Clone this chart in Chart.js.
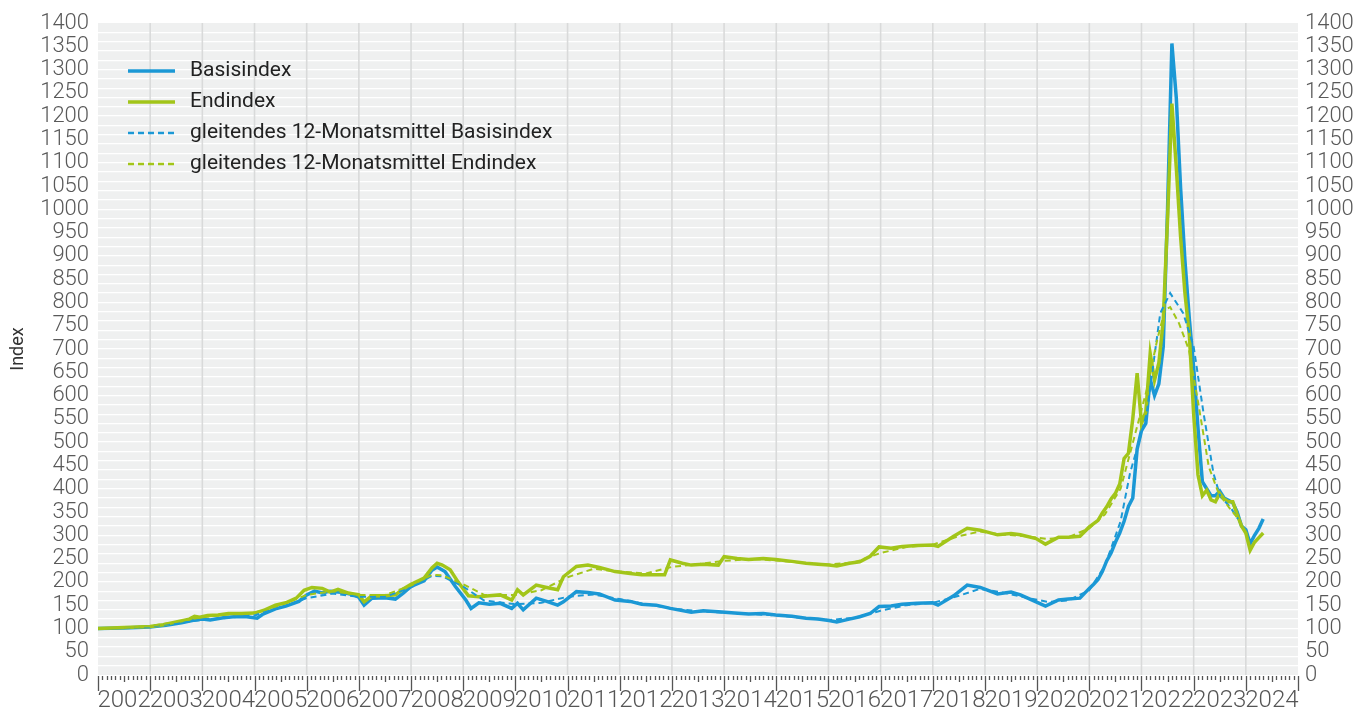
<!DOCTYPE html>
<html>
<head>
<meta charset="utf-8">
<script src="https://cdn.jsdelivr.net/npm/chart.js@4.4.1/dist/chart.umd.min.js"></script>
<style>
  html, body { margin: 0; padding: 0; background: #fff; }
  #wrap { width: 1369px; height: 722px; }
</style>
</head>
<body>
<div id="wrap"><canvas id="indexChart" width="1369" height="722"></canvas></div>
<script>
// Jahreslabels (zentriert im jeweiligen Jahr)
const yearLabels = ['2002', '2003', '2004', '2005', '2006', '2007', '2008', '2009', '2010', '2011', '2012',
  '2013', '2014', '2015', '2016', '2017', '2018', '2019', '2020', '2021', '2022', '2023', '2024'];

// [Zeitpunkt als Dezimaljahr, Wert]
const basisIndex = [
  [2002.0, 100], [2002.5, 101], [2003.0, 103], [2003.3, 107], [2003.6, 112], [2003.85, 118], [2004.0, 120],
  [2004.15, 118], [2004.4, 123], [2004.6, 125], [2004.85, 125], [2005.05, 122], [2005.15, 130], [2005.4, 142],
  [2005.6, 148], [2005.85, 158], [2006.0, 172], [2006.15, 180], [2006.3, 176], [2006.45, 180], [2006.7, 177],
  [2006.9, 172], [2007.0, 167], [2007.1, 150], [2007.25, 165], [2007.5, 166], [2007.7, 163], [2007.85, 176],
  [2008.0, 190], [2008.25, 202], [2008.4, 225], [2008.5, 232], [2008.65, 222], [2008.85, 190], [2009.05, 161],
  [2009.15, 143], [2009.3, 155], [2009.5, 152], [2009.71, 154], [2009.93, 143], [2010.04, 154], [2010.15, 140],
  [2010.4, 165], [2010.6, 158], [2010.81, 150], [2010.92, 157], [2011.17, 179], [2011.39, 177], [2011.61, 174],
  [2011.91, 161], [2012.2, 158], [2012.42, 152], [2012.7, 150], [2012.97, 143], [2013.37, 135], [2013.6, 138],
  [2013.89, 136], [2014.2, 133], [2014.47, 131], [2014.75, 132], [2014.99, 129], [2015.3, 126], [2015.57, 122],
  [2015.8, 120], [2016.01, 117], [2016.16, 114], [2016.4, 120], [2016.6, 125], [2016.8, 132], [2016.97, 147],
  [2017.2, 148], [2017.41, 152], [2017.7, 154], [2018.0, 155], [2018.1, 150], [2018.4, 170], [2018.66, 193],
  [2018.91, 188], [2019.24, 174], [2019.5, 178], [2019.68, 172], [2019.98, 157], [2020.16, 148], [2020.41, 161],
  [2020.6, 163], [2020.82, 165],
  [2021.0, 186], [2021.083, 195], [2021.167, 205], [2021.25, 222], [2021.333, 245], [2021.417, 262],
  [2021.5, 285], [2021.583, 305], [2021.667, 330], [2021.75, 362], [2021.833, 380], [2021.917, 485],
  [2022.0, 525], [2022.083, 540], [2022.167, 635], [2022.25, 600], [2022.333, 625], [2022.417, 705],
  [2022.5, 1000], [2022.583, 1356], [2022.667, 1240], [2022.75, 1045], [2022.833, 890], [2022.917, 765],
  [2023.0, 660], [2023.083, 530], [2023.167, 415], [2023.25, 400], [2023.333, 385], [2023.417, 385],
  [2023.5, 395], [2023.583, 380], [2023.667, 375], [2023.75, 370], [2023.833, 350], [2023.917, 320],
  [2024.0, 312], [2024.083, 282], [2024.167, 300], [2024.25, 315], [2024.333, 335]
];

const endIndex = [
  [2002.0, 100], [2002.25, 101], [2002.5, 102], [2002.75, 103], [2003.0, 104], [2003.25, 108], [2003.5, 114],
  [2003.75, 120], [2003.85, 126], [2003.95, 124], [2004.1, 128], [2004.3, 129], [2004.5, 132], [2004.75, 132],
  [2005.0, 133], [2005.2, 140], [2005.4, 150], [2005.6, 155], [2005.8, 165], [2005.95, 182], [2006.1, 188],
  [2006.3, 186], [2006.45, 178], [2006.6, 184], [2006.8, 176], [2007.0, 172], [2007.1, 157], [2007.25, 170],
  [2007.5, 170], [2007.7, 172], [2007.85, 185], [2008.0, 195], [2008.25, 208], [2008.4, 230], [2008.5, 240],
  [2008.6, 236], [2008.75, 226], [2008.9, 200], [2009.1, 170], [2009.3, 168], [2009.5, 170], [2009.71, 172],
  [2009.93, 161], [2010.04, 183], [2010.15, 172], [2010.4, 193], [2010.6, 188], [2010.81, 183], [2010.92, 211],
  [2011.17, 233], [2011.39, 236], [2011.61, 231], [2011.91, 222], [2012.2, 218], [2012.42, 215], [2012.86, 215],
  [2012.97, 247], [2013.2, 240], [2013.37, 236], [2013.6, 238], [2013.89, 236], [2014.0, 254], [2014.25, 250],
  [2014.47, 248], [2014.75, 250], [2014.99, 248], [2015.3, 244], [2015.57, 240], [2015.8, 238], [2016.01, 236],
  [2016.16, 234], [2016.4, 240], [2016.6, 243], [2016.8, 255], [2016.97, 275], [2017.2, 272], [2017.41, 276],
  [2017.7, 278], [2018.0, 279], [2018.1, 276], [2018.4, 298], [2018.66, 315], [2018.91, 311], [2019.24, 301],
  [2019.5, 304], [2019.68, 301], [2019.98, 293], [2020.16, 281], [2020.41, 296], [2020.6, 296], [2020.82, 298],
  [2021.0, 318], [2021.083, 325], [2021.167, 332], [2021.25, 348], [2021.333, 361], [2021.417, 378],
  [2021.5, 390], [2021.583, 410], [2021.667, 465], [2021.75, 476], [2021.833, 550], [2021.917, 648],
  [2022.0, 540], [2022.083, 565], [2022.167, 690], [2022.25, 633], [2022.333, 670], [2022.417, 760],
  [2022.5, 980], [2022.583, 1227], [2022.667, 1090], [2022.75, 940], [2022.833, 820], [2022.917, 730],
  [2023.0, 560], [2023.083, 430], [2023.167, 385], [2023.25, 397], [2023.333, 376], [2023.417, 372],
  [2023.5, 390], [2023.583, 378], [2023.667, 372], [2023.75, 372], [2023.833, 345], [2023.917, 320],
  [2024.0, 305], [2024.083, 268], [2024.167, 285], [2024.25, 295], [2024.333, 305]
];

const basisAvg12 = [
  [2002.5, 101], [2003.0, 104], [2003.5, 111], [2004.0, 118], [2004.5, 123], [2005.0, 128], [2005.5, 145],
  [2006.0, 165], [2006.5, 175], [2007.0, 168], [2007.5, 168], [2008.0, 188], [2008.4, 213], [2008.6, 212],
  [2009.0, 190], [2009.4, 160], [2010.0, 152], [2010.5, 155], [2011.0, 168], [2011.5, 173], [2012.0, 163],
  [2012.5, 152], [2013.0, 143], [2013.5, 137], [2014.0, 134], [2014.5, 131], [2015.0, 128], [2015.5, 123],
  [2016.0, 118], [2016.5, 123], [2017.0, 138], [2017.5, 150], [2018.0, 155], [2018.5, 170], [2018.9, 185],
  [2019.3, 178], [2019.8, 166], [2020.2, 157], [2020.6, 160], [2021.0, 182], [2021.3, 235], [2021.6, 330],
  [2021.78, 433], [2022.0, 520], [2022.1, 562], [2022.36, 777], [2022.55, 820], [2022.8, 777], [2023.0, 705],
  [2023.19, 562], [2023.38, 433], [2023.51, 383], [2023.7, 361], [2023.85, 335]
];

const endAvg12 = [
  [2002.5, 101], [2003.0, 105], [2003.5, 114], [2004.0, 124], [2004.5, 130], [2005.0, 134], [2005.5, 150],
  [2006.0, 172], [2006.5, 180], [2007.0, 172], [2007.5, 172], [2008.0, 192], [2008.4, 215], [2008.6, 214],
  [2009.0, 195], [2009.4, 172], [2010.0, 172], [2010.5, 182], [2011.0, 210], [2011.5, 228], [2012.0, 222],
  [2012.5, 218], [2013.0, 232], [2013.5, 238], [2014.0, 245], [2014.5, 249], [2015.0, 246], [2015.5, 241],
  [2016.0, 237], [2016.5, 242], [2017.0, 262], [2017.5, 275], [2018.0, 280], [2018.5, 298], [2018.9, 308],
  [2019.3, 302], [2019.8, 298], [2020.2, 292], [2020.6, 296], [2021.0, 315], [2021.3, 345], [2021.6, 400],
  [2021.85, 505], [2022.1, 612], [2022.3, 719], [2022.45, 784], [2022.55, 790], [2022.72, 755], [2022.91, 698],
  [2023.1, 576], [2023.29, 447], [2023.48, 390], [2023.67, 361], [2023.87, 333]
];

const BLUE = '#1b98d5';
const GREEN = '#a2c519';
const FONT = 'Roboto, "DejaVu Sans", sans-serif';

const toPoints = arr => arr.map(p => ({ x: p[0], y: p[1] }));
const monthOf = v => Math.round((v - 2002) * 12);

// grauer Hintergrund, Jahreslinien, Monatsstriche unten, Legende oben links
const decor = {
  id: 'decor',
  beforeDraw(chart) {
    const { ctx, chartArea: a } = chart;
    ctx.save();
    ctx.fillStyle = '#eff0f0';
    ctx.fillRect(a.left, a.top, a.right - a.left, a.bottom - a.top);
    ctx.restore();
  },
  beforeDatasetsDraw(chart) {
    const { ctx, chartArea: a, scales } = chart;
    ctx.save();
    ctx.strokeStyle = '#d9dada';
    ctx.lineWidth = 1.6;
    for (let i = 1; i < yearLabels.length; i++) {
      const px = scales.x.getPixelForValue(2002 + i);
      ctx.beginPath();
      ctx.moveTo(px, a.top);
      ctx.lineTo(px, a.bottom);
      ctx.stroke();
    }
    ctx.restore();
  },
  afterDraw(chart) {
    const { ctx, chartArea: a, scales } = chart;
    const x = scales.x;
    ctx.save();
    ctx.strokeStyle = '#555';
    ctx.lineWidth = 1.3;
    for (let m = 0; m <= 276; m++) {
      const px = Math.round(x.getPixelForValue(2002 + m / 12)) + 0.5;
      const len = m % 12 === 0 ? 15 : (m % 6 === 0 ? 6 : 4);
      ctx.beginPath();
      ctx.moveTo(px, a.bottom + 1);
      ctx.lineTo(px, a.bottom + 1 + len);
      ctx.stroke();
    }
    // Legende
    ctx.font = '21px ' + FONT;
    ctx.textBaseline = 'middle';
    chart.data.datasets.forEach((ds, i) => {
      const y = 71 + i * 31;
      ctx.beginPath();
      ctx.strokeStyle = ds.borderColor;
      ctx.lineWidth = ds.borderDash ? 2.5 : 3.5;
      ctx.setLineDash(ds.borderDash || []);
      ctx.moveTo(128, y);
      ctx.lineTo(175, y);
      ctx.stroke();
      ctx.setLineDash([]);
      ctx.fillStyle = '#222';
      ctx.fillText(ds.label, 190, y);
    });
    ctx.restore();
  }
};

new Chart(document.getElementById('indexChart'), {
  type: 'line',
  data: {
    datasets: [
      { label: 'Basisindex', data: toPoints(basisIndex), borderColor: BLUE, borderWidth: 3.5, order: 4 },
      { label: 'Endindex', data: toPoints(endIndex), borderColor: GREEN, borderWidth: 3.5, order: 3 },
      { label: 'gleitendes 12-Monatsmittel Basisindex', data: toPoints(basisAvg12), borderColor: BLUE,
        borderWidth: 2, borderDash: [6, 4], order: 2 },
      { label: 'gleitendes 12-Monatsmittel Endindex', data: toPoints(endAvg12), borderColor: GREEN,
        borderWidth: 2, borderDash: [6, 4], order: 1 }
    ]
  },
  options: {
    responsive: false,
    animation: false,
    events: [],
    layout: { padding: { top: 23, left: 0, right: 0, bottom: 0 } },
    elements: { point: { radius: 0 }, line: { tension: 0, fill: false } },
    plugins: { legend: { display: false }, tooltip: { enabled: false } },
    scales: {
      x: {
        type: 'linear',
        min: 2002,
        max: 2025,
        afterBuildTicks: scale => {
          scale.ticks = Array.from({ length: 277 }, (_, m) => ({ value: 2002 + m / 12 }));
        },
        afterFit: scale => { scale.height = 47; },
        border: { display: false },
        grid: { display: false, drawTicks: false },
        ticks: {
          autoSkip: false,
          maxRotation: 0,
          minRotation: 0,
          padding: 12,
          color: '#555',
          font: { family: FONT, size: 24, weight: 300 },
          callback: v => {
            const m = monthOf(v);
            return m % 12 === 6 ? yearLabels[(m - 6) / 12] : '';
          }
        }
      },
      y: {
        position: 'left',
        min: 0,
        max: 1400,
        afterBuildTicks: scale => {
          scale.ticks = Array.from({ length: 141 }, (_, i) => ({ value: i * 10 }));
        },
        afterFit: scale => { scale.width = 98; },
        border: { display: false },
        grid: {
          drawTicks: false,
          lineWidth: 1.3,
          color: c => (c.tick && c.tick.value % 20 === 0 && c.tick.value > 0 && c.tick.value < 1400 ? '#ffffff' : 'rgba(0,0,0,0)')
        },
        title: { display: true, text: 'Index', color: '#333', font: { family: FONT, size: 18 }, padding: { top: 8, bottom: 0 } },
        ticks: {
          autoSkip: false,
          padding: 9,
          color: '#595959',
          font: { family: FONT, size: 22, weight: 300 },
          callback: v => (v % 50 === 0 ? String(v) : '')
        }
      },
      y2: {
        position: 'right',
        min: 0,
        max: 1400,
        afterBuildTicks: scale => {
          scale.ticks = Array.from({ length: 29 }, (_, i) => ({ value: i * 50 }));
        },
        afterFit: scale => { scale.width = 71; },
        border: { display: false },
        grid: { display: false, drawTicks: false },
        ticks: {
          autoSkip: false,
          padding: 7,
          color: '#595959',
          font: { family: FONT, size: 22, weight: 300 },
          callback: v => String(v)
        }
      }
    }
  },
  plugins: [decor]
});
</script>
</body>
</html>
